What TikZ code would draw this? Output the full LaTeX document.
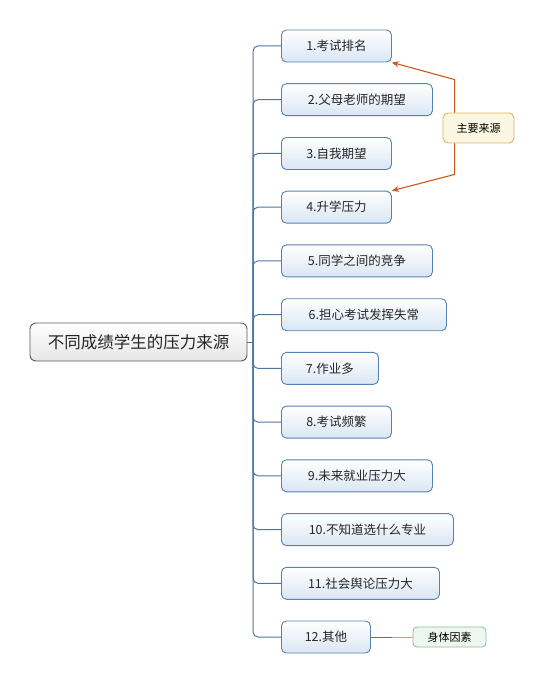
\documentclass[tikz,border=0pt]{standalone}
\usepackage{fontspec}
\setmainfont{Noto Sans CJK SC}
\usetikzlibrary{arrows.meta}
\definecolor{lineblue}{HTML}{4A76A6}
\definecolor{boxborder}{HTML}{5682B2}
\definecolor{boxfill}{HTML}{D9E6F4}
\definecolor{calloutorange}{HTML}{C65A1E}
\definecolor{callfill}{HTML}{FAF6E2}
\definecolor{callborder}{HTML}{D6B460}
\definecolor{grnborder}{HTML}{86C096}
\definecolor{grnfill}{HTML}{EEF7EF}
\definecolor{mainborder}{HTML}{5A5A5A}
\tikzset{
  topicbox/.style={draw=boxborder, line width=0.9pt, rounded corners=5pt, top color=white, bottom color=boxfill,
    minimum height=32pt, anchor=west, inner sep=0pt, font=\fontsize{12.5}{14}\selectfont, text=black!85},
  mainbox/.style={draw=mainborder, line width=0.9pt, rounded corners=6pt, top color=white, bottom color=black!10,
    minimum width=217pt, minimum height=38pt, inner sep=0pt, font=\fontsize{16.5}{19}\selectfont, text=black!85},
  calloutbox/.style={draw=callborder, line width=0.9pt, rounded corners=5pt, fill=callfill,
    minimum width=71pt, minimum height=30pt, inner sep=0pt, font=\fontsize{11}{13}\selectfont},
  tagbox/.style={draw=grnborder, line width=0.8pt, rounded corners=4pt, fill=grnfill,
    minimum width=73pt, minimum height=20pt, inner sep=0pt, font=\fontsize{11}{13}\selectfont},
  branch/.style={draw=lineblue, line width=1pt, rounded corners=5pt},
  callarrow/.style={draw=calloutorange, line width=1.1pt, -{Stealth[length=7pt,width=6pt]}},
}
\begin{document}
\begin{tikzpicture}[x=1pt,y=-1pt]
\useasboundingbox (0,0) rectangle (545,684);
\node[mainbox] (main) at (138.5,342) {不同成绩学生的压力来源};
\coordinate (trunk) at (253,342);
\node[topicbox, minimum width=110pt] (b1) at (281,46) {1.考试排名};
\node[topicbox, minimum width=151pt] (b2) at (281,99.7) {2.父母老师的期望};
\node[topicbox, minimum width=110pt] (b3) at (281,153.5) {3.自我期望};
\node[topicbox, minimum width=110pt] (b4) at (281,207.2) {4.升学压力};
\node[topicbox, minimum width=151pt] (b5) at (281,260.9) {5.同学之间的竞争};
\node[topicbox, minimum width=165pt] (b6) at (281,314.7) {6.担心考试发挥失常};
\node[topicbox, minimum width=97pt] (b7) at (281,368.4) {7.作业多};
\node[topicbox, minimum width=110pt] (b8) at (281,422.1) {8.考试频繁};
\node[topicbox, minimum width=151pt] (b9) at (281,475.8) {9.未来就业压力大};
\node[topicbox, minimum width=172pt] (b10) at (281,529.6) {10.不知道选什么专业};
\node[topicbox, minimum width=158pt] (b11) at (281,583.3) {11.社会舆论压力大};
\node[topicbox, minimum width=89pt] (b12) at (281,637) {12.其他};
\node[calloutbox] (call) at (478.5,128) {主要来源};
\node[tagbox] (tag) at (449.5,637) {身体因素};
% trunk and branches
\draw[draw=lineblue, line width=1pt] (main.east) -- (trunk);
\foreach \b in {b1,b2,b3,b4,b5,b6,b7,b8,b9,b10,b11,b12}{
  \draw[branch] (trunk) |- (\b.west);
}
% callout arrows
\coordinate (ctop) at ([xshift=12pt]call.north west);
\coordinate (cbot) at ([xshift=12pt]call.south west);
\draw[callarrow, rounded corners=0pt] (ctop) -- ++(0,-33) -- (b1.south east);
\draw[callarrow, rounded corners=0pt] (cbot) -- ++(0,31) -- (b4.north east);
% tag connector
\coordinate (mid) at (392,637);
\draw[draw=lineblue, line width=1pt] (b12.east) -- (mid);
\draw[draw=grnborder, line width=1pt] (mid) -- (tag.west);
\end{tikzpicture}
\end{document}
